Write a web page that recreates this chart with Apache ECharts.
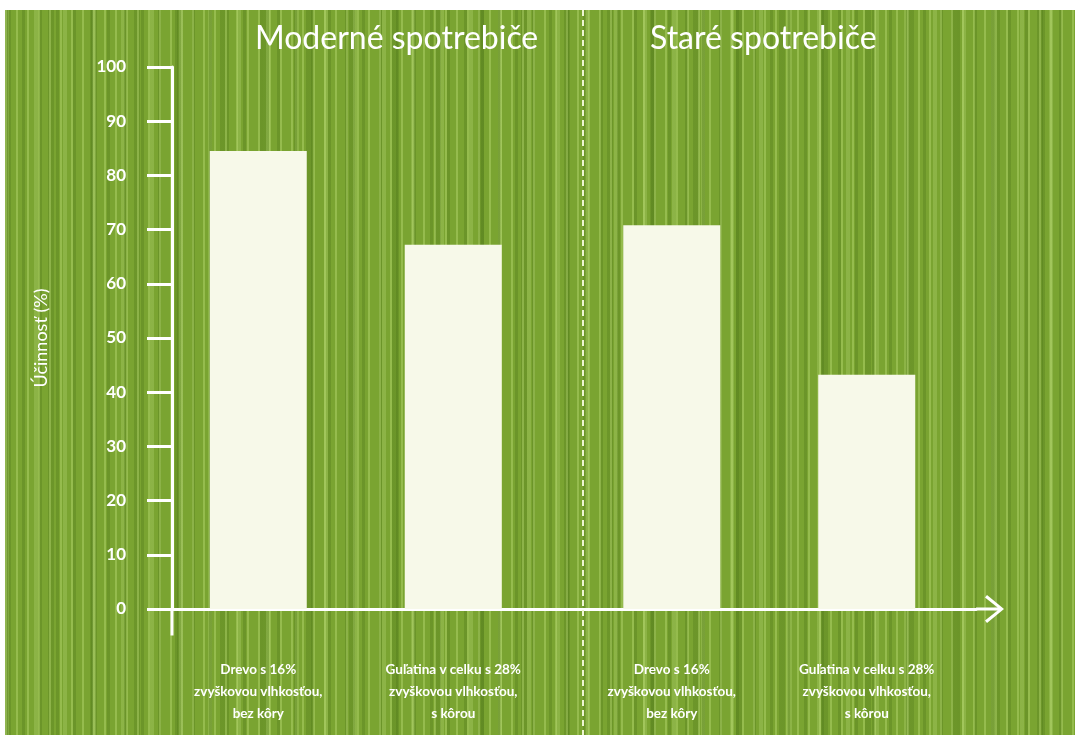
<!DOCTYPE html>
<html>
<head>
<meta charset="utf-8">
<script src="https://cdn.jsdelivr.net/npm/echarts@6/dist/echarts.min.js"></script>
<style>
  html, body { margin: 0; padding: 0; background: #ffffff; }
  #bg {
    position: absolute; left: 5px; top: 10px; right: 0; bottom: 0;
    background-color: #7aa431;
    background-image:
      repeating-linear-gradient(90deg, rgba(200,232,130,0.35) 0px, rgba(200,232,130,0.35) 2px, rgba(0,0,0,0) 2px, rgba(0,0,0,0) 11px),
      repeating-linear-gradient(90deg, rgba(70,110,20,0.28) 0px, rgba(70,110,20,0.28) 3px, rgba(0,0,0,0) 3px, rgba(0,0,0,0) 17px),
      repeating-linear-gradient(90deg, rgba(205,235,145,0.22) 0px, rgba(205,235,145,0.22) 4px, rgba(0,0,0,0) 4px, rgba(0,0,0,0) 29px),
      repeating-linear-gradient(90deg, rgba(60,100,15,0.22) 0px, rgba(60,100,15,0.22) 6px, rgba(0,0,0,0) 6px, rgba(0,0,0,0) 43px);
  }
  #chart { position: absolute; left: 0; top: 0; width: 1075px; height: 735px; }
</style>
</head>
<body>
<div id="bg"></div>
<div id="chart"></div>
<script>
// Groups (x categories)
var groups = ['Moderné spotrebiče', 'Staré spotrebiče'];
// Series names / bar labels
var nameDrevo = 'Drevo s 16%\nzvyškovou vlhkosťou,\nbez kôry';
var nameGulatina = 'Guľatina v celku s 28%\nzvyškovou vlhkosťou,\ns kôrou';
// Values (Účinnosť %)
var valuesDrevo = [84.5, 70.8];
var valuesGulatina = [67.2, 43.2];
// Y axis
var yMin = 0, yMax = 100, yStep = 10;
var yAxisName = 'Účinnosť (%)';

var FONT = 'Lato, "Open Sans", sans-serif';
var WHITE = '#ffffff';
var BAR = '#f7f9e9';

var chart = echarts.init(document.getElementById('chart'), null, { renderer: 'canvas' });

var arrowPath = 'path://M14,0 L28,17 L25.5,19 L14,4.5 L2.5,19 L0,17 Z M12.5,2 L15.5,2 L15.5,28 L12.5,28 Z';

function barLabel(text) {
  return {
    show: true,
    position: 'bottom',
    distance: 50,
    formatter: function () { return text; },
    color: WHITE,
    fontFamily: FONT,
    fontSize: 13.5,
    fontWeight: 'bold',
    lineHeight: 22,
    align: 'center'
  };
}

chart.setOption({
  backgroundColor: 'transparent',
  animation: false,
  title: [
    { text: groups[0], left: 250, top: 18, textStyle: { color: WHITE, fontFamily: FONT, fontSize: 32, fontWeight: 'normal' } },
    { text: groups[1], left: 645, top: 18, textStyle: { color: WHITE, fontFamily: FONT, fontSize: 32, fontWeight: 'normal' } }
  ],
  grid: { left: 149, right: 99, top: 67, bottom: 126, containLabel: false },
  xAxis: {
    type: 'category',
    data: groups,
    axisLabel: { show: false },
    axisTick: { show: false },
    splitLine: { show: false },
    axisLine: {
      show: true,
      lineStyle: { color: WHITE, width: 3 },
      symbol: ['none', arrowPath],
      symbolSize: [28, 28],
      symbolOffset: [0, 14]
    }
  },
  yAxis: {
    type: 'value',
    min: yMin, max: yMax, interval: yStep,
    offset: -23,
    name: yAxisName,
    nameLocation: 'middle',
    nameGap: 122,
    nameRotate: 90,
    nameTextStyle: { color: WHITE, fontFamily: FONT, fontSize: 18 },
    axisLine: {
      show: true,
      lineStyle: { color: WHITE, width: 3 },
      symbol: ['rect', 'none'],
      symbolSize: [3, 27],
      symbolOffset: [-13, 0]
    },
    axisTick: { show: true, length: 25, lineStyle: { color: WHITE, width: 3 } },
    axisLabel: { color: WHITE, fontFamily: FONT, fontSize: 17, fontWeight: 'bold', margin: 46 },
    splitLine: { show: false }
  },
  graphic: [
    {
      type: 'line',
      shape: { x1: 583, y1: 10, x2: 583, y2: 735 },
      style: { stroke: '#eef5d2', lineWidth: 2, lineDash: [6, 4] },
      z: 1
    }
  ],
  series: [
    {
      type: 'bar',
      name: nameDrevo,
      data: valuesDrevo,
      barWidth: 97,
      barGap: '101%',
      itemStyle: { color: BAR },
      label: barLabel(nameDrevo),
      z: 3
    },
    {
      type: 'bar',
      name: nameGulatina,
      data: valuesGulatina,
      barWidth: 97,
      barGap: '101%',
      itemStyle: { color: BAR },
      label: barLabel(nameGulatina),
      z: 3
    }
  ]
});
</script>
</body>
</html>
